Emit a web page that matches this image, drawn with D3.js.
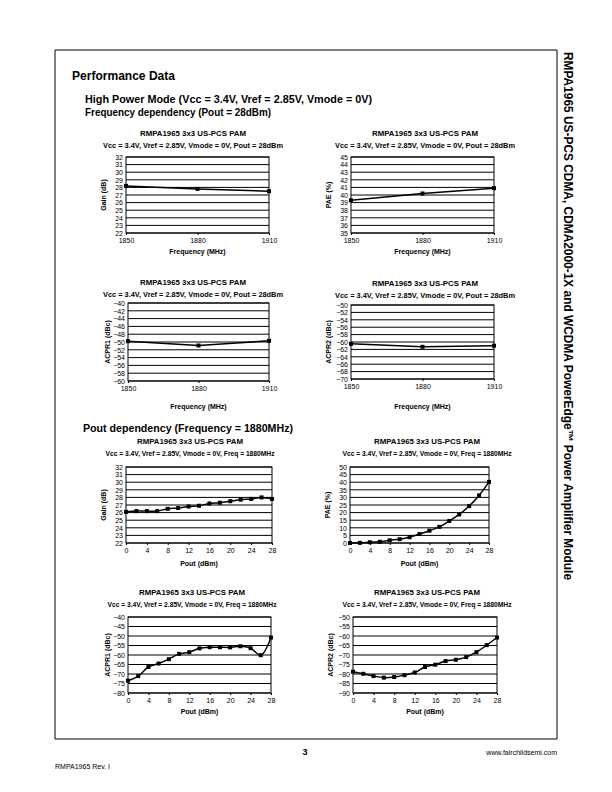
<!DOCTYPE html>
<html><head><meta charset="utf-8">
<script src="https://cdn.jsdelivr.net/npm/d3@7"></script>
<style>html,body{margin:0;padding:0;background:#fff}svg{display:block}text{font-family:"Liberation Sans",Arial,sans-serif;fill:#000}</style>
</head><body><svg id="page" width="612" height="792"></svg>
<script>
// ---------- data ----------
const freqCategories = [1850, 1880, 1910];
const gainVsFreq  = [28.2, 27.8, 27.5];
const paeVsFreq   = [39.3, 40.2, 40.9];
const acpr1VsFreq = [-49.8, -50.9, -49.7];
const acpr2VsFreq = [-60.5, -61.3, -61.0];

const poutValues  = [0, 2, 4, 6, 8, 10, 12, 14, 16, 18, 20, 22, 24, 26, 28];
const gainVsPout  = [26.1, 26.2, 26.2, 26.2, 26.5, 26.6, 26.8, 26.9, 27.2, 27.3, 27.5, 27.7, 27.8, 28.0, 27.8];
const paeVsPout   = [0.0, 0.1, 0.5, 0.8, 1.8, 2.5, 3.8, 5.9, 8.1, 10.6, 14.5, 18.8, 24.3, 31.3, 40.2];
const acpr1VsPout = [-73.5, -71.1, -66.3, -64.5, -62.2, -59.4, -58.5, -56.5, -55.9, -55.9, -56.0, -55.4, -56.4, -60.1, -50.8];
const acpr2VsPout = [-78.8, -79.9, -81.1, -81.9, -81.6, -80.6, -79.2, -76.3, -75.1, -73.2, -72.5, -71.1, -68.5, -64.8, -60.8];

const freqTickLabels = [1850, 1880, 1910];
const poutTickLabels = [0, 4, 8, 12, 16, 20, 24, 28];
const gainTicks  = [22, 23, 24, 25, 26, 27, 28, 29, 30, 31, 32];
const paeFreqTicks = [35, 36, 37, 38, 39, 40, 41, 42, 43, 44, 45];
const acpr1FreqTicks = [-60, -58, -56, -54, -52, -50, -48, -46, -44, -42, -40];
const acpr2FreqTicks = [-70, -68, -66, -64, -62, -60, -58, -56, -54, -52, -50];
const paePoutTicks = [0, 5, 10, 15, 20, 25, 30, 35, 40, 45, 50];
const acpr1PoutTicks = [-80, -75, -70, -65, -60, -55, -50, -45, -40];
const acpr2PoutTicks = [-90, -85, -80, -75, -70, -65, -60, -55, -50];

const chartTitle = "RMPA1965 3x3 US-PCS PAM";
const subFreq = "Vcc = 3.4V, Vref = 2.85V, Vmode = 0V, Pout = 28dBm";
const subPout = "Vcc = 3.4V, Vref = 2.85V, Vmode = 0V, Freq = 1880MHz";

// ---------- page ----------
const svg = d3.select("#page");
svg.append("rect").attr("width",612).attr("height",792).attr("fill","#fff");
svg.append("path").attr("d","M55,50 H557 V739 H55 Z").attr("fill","none").attr("stroke","#000").attr("stroke-width",1);

svg.append("text").attr("x",72).attr("y",80).attr("font-size",12.5).attr("font-weight","bold")
  .attr("textLength",103).attr("lengthAdjust","spacingAndGlyphs").text("Performance Data");
svg.append("text").attr("x",85).attr("y",103).attr("font-size",11).attr("font-weight","bold")
  .attr("textLength",287).attr("lengthAdjust","spacingAndGlyphs").text("High Power Mode (Vcc = 3.4V, Vref = 2.85V, Vmode = 0V)");
svg.append("text").attr("x",85).attr("y",116).attr("font-size",11).attr("font-weight","bold")
  .attr("textLength",186).attr("lengthAdjust","spacingAndGlyphs").text("Frequency dependency (Pout = 28dBm)");
svg.append("text").attr("x",83).attr("y",432).attr("font-size",11).attr("font-weight","bold")
  .attr("textLength",210).attr("lengthAdjust","spacingAndGlyphs").text("Pout dependency (Frequency = 1880MHz)");

svg.append("text").attr("transform","translate(564,52) rotate(90)").attr("font-size",12.5).attr("font-weight","bold")
  .attr("textLength",528).attr("lengthAdjust","spacingAndGlyphs")
  .text("RMPA1965  US-PCS CDMA, CDMA2000-1X and WCDMA PowerEdge\u2122 Power Amplifier Module");

svg.append("text").attr("x",305).attr("y",755).attr("font-size",9).attr("font-weight","bold").attr("text-anchor","middle").text("3");
svg.append("text").attr("x",557).attr("y",755).attr("font-size",7).attr("text-anchor","end").text("www.fairchildsemi.com");
svg.append("text").attr("x",55).attr("y",769).attr("font-size",7).text("RMPA1965 Rev. I");

// ---------- charts ----------
const charts = [
  {box:[126,269,157,233], cx:193, ty:133, xs:freqCategories, ys:gainVsFreq, yt:gainTicks, xt:freqTickLabels, xdom:[1850,1910], yl:"Gain (dB)", ylx:103, xl:"Frequency (MHz)", xly:238, xty:251, sub:subFreq, curve:false},
  {box:[351,494,157,233], cx:425, ty:133, xs:freqCategories, ys:paeVsFreq, yt:paeFreqTicks, xt:freqTickLabels, xdom:[1850,1910], yl:"PAE (%)", ylx:328, xl:"Frequency (MHz)", xly:238, xty:251, sub:subFreq, curve:false},
  {box:[128,269,303,381], cx:193, ty:282, xs:freqCategories, ys:acpr1VsFreq, yt:acpr1FreqTicks, xt:freqTickLabels, xdom:[1850,1910], yl:"ACPR1 (dBc)", ylx:107, xl:"Frequency (MHz)", xly:388, xty:406, sub:subFreq, curve:false},
  {box:[351,494,305,379], cx:425, ty:283, xs:freqCategories, ys:acpr2VsFreq, yt:acpr2FreqTicks, xt:freqTickLabels, xdom:[1850,1910], yl:"ACPR2 (dBc)", ylx:328, xl:"Frequency (MHz)", xly:388, xty:406, sub:subFreq, curve:false},
  {box:[126,272,467,543], cx:190, ty:441, xs:poutValues, ys:gainVsPout, yt:gainTicks, xt:poutTickLabels, xdom:[0,28], yl:"Gain (dB)", ylx:103, xl:"Pout (dBm)", xly:550, xty:563, sub:subPout, curve:true},
  {box:[350,489,467,543], cx:427, ty:441, xs:poutValues, ys:paeVsPout, yt:paePoutTicks, xt:poutTickLabels, xdom:[0,28], yl:"PAE (%)", ylx:327, xl:"Pout (dBm)", xly:550, xty:563, sub:subPout, curve:true},
  {box:[128,271,617,693], cx:192, ty:592, xs:poutValues, ys:acpr1VsPout, yt:acpr1PoutTicks, xt:poutTickLabels, xdom:[0,28], yl:"ACPR1 (dBc)", ylx:107, xl:"Pout (dBm)", xly:699, xty:711, sub:subPout, curve:true},
  {box:[353,497,617,693], cx:427, ty:592, xs:poutValues, ys:acpr2VsPout, yt:acpr2PoutTicks, xt:poutTickLabels, xdom:[0,28], yl:"ACPR2 (dBc)", ylx:330, xl:"Pout (dBm)", xly:699, xty:711, sub:subPout, curve:true}
];

charts.forEach(c => {
  const [x0,x1,y0,y1] = c.box;
  const g = svg.append("g");
  const x = d3.scaleLinear().domain(c.xdom).range([x0,x1]);
  const y = d3.scaleLinear().domain(d3.extent(c.yt)).range([y1,y0]);

  g.append("text").attr("x",c.cx).attr("y",c.ty).attr("dominant-baseline","central").attr("text-anchor","middle")
    .attr("font-size",8).attr("font-weight","bold").attr("textLength",106).attr("lengthAdjust","spacingAndGlyphs").text(chartTitle);
  g.append("text").attr("x",c.cx).attr("y",c.ty+12).attr("dominant-baseline","central").attr("text-anchor","middle")
    .attr("font-size",8).attr("font-weight","bold").attr("textLength", c.sub===subFreq?180:169).attr("lengthAdjust","spacingAndGlyphs").text(c.sub);

  // gridlines
  g.selectAll("line.grid").data(c.yt).join("line")
    .attr("x1",x0).attr("x2",x1).attr("y1",d=>y(d)).attr("y2",d=>y(d))
    .attr("stroke","#000").attr("stroke-width",1);
  g.append("rect").attr("x",x0).attr("y",y0).attr("width",x1-x0).attr("height",y1-y0)
    .attr("fill","none").attr("stroke","#000").attr("stroke-width",1);

  // y axis labels
  const yAxis = d3.axisLeft(y).tickValues(c.yt).tickSize(0).tickPadding(3);
  const ya = g.append("g").attr("transform",`translate(${x0},0)`).call(yAxis);
  ya.select(".domain").remove();
  ya.selectAll("text").attr("font-size",7).attr("fill","#000").attr("font-family","Liberation Sans, Arial, sans-serif");

  // x axis labels
  const xAxis = d3.axisBottom(x).tickValues(c.xt).tickSize(2).tickPadding(3).tickFormat(d3.format("d"));
  const xa = g.append("g").attr("transform",`translate(0,${y1})`).call(xAxis);
  xa.select(".domain").remove();
  xa.selectAll("line").attr("stroke","#000");
  xa.selectAll("text").attr("font-size",7).attr("fill","#000").attr("font-family","Liberation Sans, Arial, sans-serif");

  g.append("text").attr("x",(x0+x1)/2).attr("y",c.xty).attr("dominant-baseline","central").attr("text-anchor","middle")
    .attr("font-size",7).attr("font-weight","bold").text(c.xl);
  g.append("text").attr("transform",`translate(${c.ylx},${(y0+y1)/2}) rotate(-90)`).attr("dominant-baseline","central")
    .attr("text-anchor","middle").attr("font-size",7).attr("font-weight","bold").text(c.yl);

  const pts = c.xs.map((v,i)=>[x(v), y(c.ys[i])]);
  const line = d3.line().curve(c.curve ? d3.curveCatmullRom.alpha(0.5) : d3.curveLinear);
  g.append("path").attr("d",line(pts)).attr("fill","none").attr("stroke","#000").attr("stroke-width",1.5);
  g.selectAll("rect.m").data(pts).join("rect").attr("class","m")
    .attr("x",d=>d[0]-2).attr("y",d=>d[1]-2).attr("width",4).attr("height",4).attr("fill","#000");
});
</script></body></html>
